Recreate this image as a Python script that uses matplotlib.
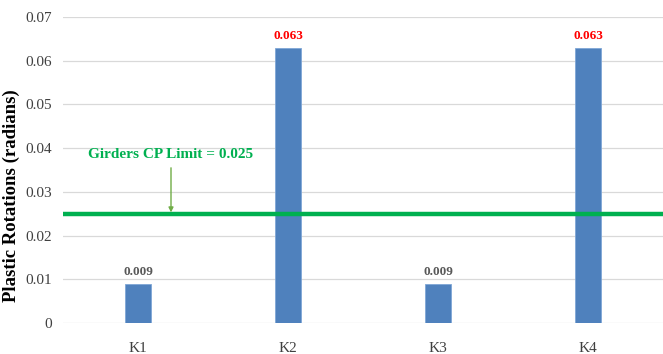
import matplotlib
matplotlib.use("Agg")
import matplotlib.pyplot as plt

categories = ["K1", "K2", "K3", "K4"]
rotations = [0.009, 0.063, 0.009, 0.063]
label_colors = ["#595959", "#FF0000", "#595959", "#FF0000"]
cp_limit = 0.025
yticks = [0, 0.01, 0.02, 0.03, 0.04, 0.05, 0.06, 0.07]
ytick_labels = ["0", "0.01", "0.02", "0.03", "0.04", "0.05", "0.06", "0.07"]

plt.rcParams["font.family"] = ["Liberation Serif", "DejaVu Serif"]

fig = plt.figure(figsize=(6.63, 3.54), dpi=100)
ax = fig.add_axes([63 / 663, 1 - 323 / 354, 600 / 663, (323 - 17) / 354])

x = list(range(len(categories)))
ax.bar(x, rotations, width=0.17, color="#4F81BD", edgecolor="#7FA7D6", linewidth=0.6, zorder=3)

for xi, v, c in zip(x, rotations, label_colors):
    ax.text(xi, v + 0.0012, f"{v:.3f}", ha="center", va="bottom",
            fontsize=9.5, fontweight="bold", color=c, zorder=5)

ax.axhline(cp_limit, color="#00B050", linewidth=3.2, zorder=4)

ax.annotate("", xy=(0.22, cp_limit + 0.0003), xytext=(0.22, 0.0355),
            arrowprops=dict(arrowstyle="-|>", color="#70AD47", lw=1.0,
                            mutation_scale=7, shrinkA=0, shrinkB=0), zorder=5)
ax.text(0.22, 0.0385, f"Girders CP Limit = {cp_limit}", ha="center", va="center",
        fontsize=11, fontweight="bold", color="#00B050", zorder=5)

ax.set_xlim(-0.5, 3.5)
ax.set_ylim(0, 0.07)
ax.set_yticks(yticks)
ax.set_yticklabels(ytick_labels)
ax.set_xticks(x)
ax.set_xticklabels(categories)
ax.tick_params(axis="both", length=0, labelsize=11, colors="#404040")
ax.tick_params(axis="x", pad=14)
ax.tick_params(axis="y", pad=8)
ax.grid(axis="y", color="#D9D9D9", linewidth=0.9, zorder=0)
ax.set_axisbelow(True)
for s in ax.spines.values():
    s.set_visible(False)

ax.set_ylabel("Plastic Rotations (radians)", fontsize=13.5, fontweight="bold")
ax.yaxis.set_label_coords(-0.071, 0.415)

fig.savefig("out.png", dpi=100, facecolor="white")
